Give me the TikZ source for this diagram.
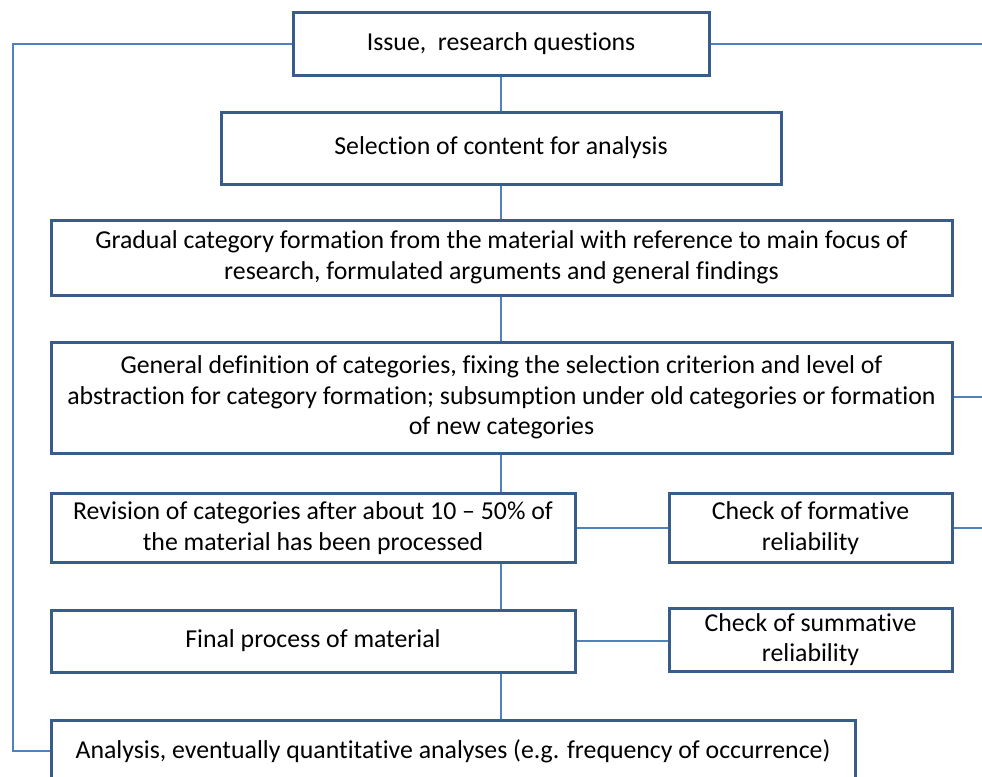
\documentclass[tikz,border=0pt]{standalone}
\usepackage{fontspec}
\setmainfont{Carlito}[Ligatures=NoCommon]
\definecolor{boxblue}{HTML}{385D8A}
\definecolor{lineblue}{HTML}{4F81BD}
\begin{document}
\begin{tikzpicture}[x=1pt,y=-1pt,
  box/.style={draw=boxblue,line width=3pt,fill=white,align=center,inner sep=0pt,
    font=\fontsize{25.8}{30.5}\selectfont,text=black},
  conn/.style={draw=lineblue,line width=1.7pt}]
\useasboundingbox (0,0) rectangle (982,776);
\clip (0,0) rectangle (982,776);
\node[box,minimum width=416,minimum height=62] (b1) at (501,44) {Issue,\ \ research questions};
\node[box,minimum width=560,minimum height=72] (b2) at (501,148) {Selection of content for analysis};
\node[box,minimum width=901,minimum height=75] (b3) at (501.5,257.5) {Gradual category formation from the material with reference to main focus of\\research, formulated arguments and general findings};
\node[box,minimum width=901,minimum height=111] (b4) at (501.5,397.5) {General definition of categories, fixing the selection criterion and level of\\abstraction for category formation; subsumption under old categories or formation\\of new categories};
\node[box,minimum width=524,minimum height=69] (b5) at (313,528) {Revision of categories after about 10 – 50\% of\\the material has been processed};
\node[box,minimum width=283,minimum height=69] (b6) at (810.5,528) {Check of formative\\reliability};
\node[box,minimum width=524,minimum height=62] (b7) at (313,641) {Final process of material};
\node[box,minimum width=283,minimum height=63] (b8) at (810.5,639.5) {Check of summative\\reliability};
\node[box,minimum width=804,minimum height=62] (b9) at (453,751) {Analysis, eventually quantitative analyses (e.g. frequency of occurrence)};
\coordinate (r1) at (982,44);
\coordinate (r4) at (982,397);
\coordinate (r6) at (982,528);
\coordinate (l1) at (13,44);
\draw[conn] (b1.west) -- (l1) |- (b9.west);
\draw[conn] (b1.east) -- (r1);
\draw[conn] (b4.east |- r4) -- (r4);
\draw[conn] (b6.east) -- (r6);
\draw[conn] (b1.south) -- (b2.north);
\draw[conn] (b2.south) -- (b2.south |- b3.north);
\draw[conn] (b1.south |- b3.south) -- (b1.south |- b4.north);
\draw[conn] (b1.south |- b4.south) -- (b1.south |- b5.north);
\draw[conn] (b1.south |- b5.south) -- (b1.south |- b7.north);
\draw[conn] (b1.south |- b7.south) -- (b1.south |- b9.north);
\draw[conn] (b5.east) -- (b6.west);
\draw[conn] (b7.east) -- (b7.east -| b8.west);
\end{tikzpicture}
\end{document}
